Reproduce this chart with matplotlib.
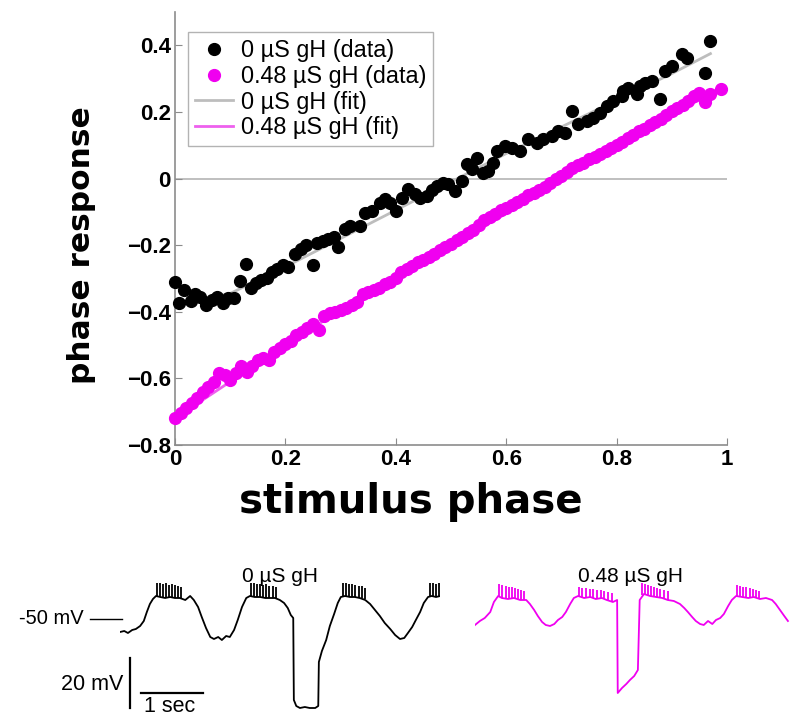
import matplotlib
matplotlib.use("Agg")
import matplotlib.pyplot as plt
from matplotlib.lines import Line2D

# ---------------- data: phase response curves ----------------
black_x = [0.000, 0.007, 0.016, 0.029, 0.036, 0.045, 0.056, 0.067, 0.076, 0.087,
           0.096, 0.107, 0.118, 0.129, 0.138, 0.147, 0.156, 0.167, 0.176, 0.185,
           0.196, 0.205, 0.217, 0.228, 0.237, 0.250, 0.257, 0.268, 0.277, 0.288,
           0.295, 0.308, 0.317, 0.335, 0.344, 0.357, 0.371, 0.380, 0.389, 0.400,
           0.411, 0.422, 0.435, 0.444, 0.457, 0.466, 0.475, 0.486, 0.495, 0.507,
           0.520, 0.529, 0.538, 0.547, 0.558, 0.567, 0.576, 0.583, 0.598, 0.611,
           0.625, 0.639, 0.656, 0.667, 0.683, 0.694, 0.707, 0.719, 0.730, 0.746,
           0.757, 0.770, 0.783, 0.793, 0.810, 0.812, 0.821, 0.837, 0.842, 0.851,
           0.864, 0.879, 0.888, 0.900, 0.918, 0.928, 0.960, 0.969]
black_y = [-0.312, -0.375, -0.336, -0.369, -0.348, -0.357, -0.381, -0.366, -0.357, -0.375,
           -0.360, -0.360, -0.309, -0.258, -0.330, -0.315, -0.306, -0.300, -0.282, -0.273,
           -0.261, -0.267, -0.228, -0.213, -0.201, -0.261, -0.195, -0.189, -0.183, -0.177,
           -0.207, -0.150, -0.141, -0.141, -0.102, -0.096, -0.072, -0.060, -0.072, -0.096,
           -0.057, -0.030, -0.045, -0.057, -0.051, -0.033, -0.021, -0.012, -0.015, -0.036,
           -0.006, 0.045, 0.030, 0.063, 0.018, 0.024, 0.048, 0.084, 0.099, 0.093,
           0.084, 0.120, 0.108, 0.120, 0.129, 0.144, 0.138, 0.204, 0.165, 0.174,
           0.183, 0.198, 0.219, 0.234, 0.249, 0.264, 0.273, 0.255, 0.279, 0.288,
           0.294, 0.240, 0.324, 0.339, 0.375, 0.363, 0.318, 0.414]

mag_x = [0.00, 0.01, 0.02, 0.03, 0.04, 0.05, 0.06, 0.07, 0.08, 0.09,
         0.10, 0.11, 0.12, 0.13, 0.14, 0.15, 0.16, 0.17, 0.18, 0.19,
         0.20, 0.21, 0.22, 0.23, 0.24, 0.25, 0.26, 0.27, 0.28, 0.29,
         0.30, 0.31, 0.32, 0.33, 0.34, 0.35, 0.36, 0.37, 0.38, 0.39,
         0.40, 0.41, 0.42, 0.43, 0.44, 0.45, 0.46, 0.47, 0.48, 0.49,
         0.50, 0.51, 0.52, 0.53, 0.54, 0.55, 0.56, 0.57, 0.58, 0.59,
         0.60, 0.61, 0.62, 0.63, 0.64, 0.65, 0.66, 0.67, 0.68, 0.69,
         0.70, 0.71, 0.72, 0.73, 0.74, 0.75, 0.76, 0.77, 0.78, 0.79,
         0.80, 0.81, 0.82, 0.83, 0.84, 0.85, 0.86, 0.87, 0.88, 0.89,
         0.90, 0.91, 0.92, 0.93, 0.94, 0.95, 0.96, 0.97, 0.99]
mag_y = [-0.720, -0.705, -0.690, -0.675, -0.658, -0.640, -0.625, -0.612, -0.585, -0.590,
         -0.605, -0.585, -0.562, -0.580, -0.562, -0.545, -0.540, -0.546, -0.522, -0.508,
         -0.498, -0.488, -0.470, -0.462, -0.448, -0.436, -0.456, -0.412, -0.405, -0.402,
         -0.396, -0.388, -0.380, -0.370, -0.348, -0.340, -0.334, -0.328, -0.318, -0.310,
         -0.298, -0.282, -0.272, -0.262, -0.252, -0.245, -0.235, -0.228, -0.215, -0.205,
         -0.196, -0.185, -0.176, -0.165, -0.155, -0.140, -0.125, -0.115, -0.105, -0.095,
         -0.088, -0.080, -0.070, -0.060, -0.050, -0.042, -0.035, -0.025, -0.012, -0.002,
         0.008, 0.020, 0.032, 0.040, 0.048, 0.058, 0.065, 0.075, 0.083, 0.092,
         0.100, 0.110, 0.122, 0.132, 0.142, 0.150, 0.160, 0.170, 0.180, 0.192,
         0.203, 0.212, 0.222, 0.232, 0.248, 0.258, 0.230, 0.255, 0.270]

fit0_x = [0.0, 0.1, 0.2, 0.3, 0.4, 0.5, 0.6, 0.7, 0.8, 0.9, 0.97]
fit0_y = [-0.38, -0.345, -0.265, -0.18, -0.095, -0.01, 0.075, 0.155, 0.235, 0.315, 0.375]
fit1_x = [0.0, 0.1, 0.2, 0.3, 0.4, 0.5, 0.6, 0.7, 0.8, 0.9, 0.98]
fit1_y = [-0.72, -0.61, -0.50, -0.395, -0.295, -0.20, -0.105, 0.0, 0.10, 0.19, 0.265]

legend_labels = ["0 \u00b5S gH (data)", "0.48 \u00b5S gH (data)",
                 "0 \u00b5S gH (fit)", "0.48 \u00b5S gH (fit)"]
xticks = [0, 0.2, 0.4, 0.6, 0.8, 1]
xtick_labels = ["0", "0.2", "0.4", "0.6", "0.8", "1"]
yticks = [-0.8, -0.6, -0.4, -0.2, 0, 0.2, 0.4]
ytick_labels = ["\u22120.8", "\u22120.6", "\u22120.4", "\u22120.2", "0", "0.2", "0.4"]

# ---------------- data: voltage traces (t in s, V in mV) ----------------
tr0_t = [0.00, 0.07, 0.13, 0.20, 0.26, 0.33, 0.39, 0.44, 0.49, 0.54, 0.59, 0.66, 0.74,
         0.82, 0.90, 0.98, 1.07, 1.15, 1.21, 1.28, 1.34, 1.41, 1.48, 1.54, 1.61, 1.67,
         1.74, 1.80, 1.87, 1.93, 2.00, 2.07, 2.13, 2.21, 2.30, 2.38, 2.46, 2.54, 2.62,
         2.69, 2.75, 2.80, 2.84, 2.85, 2.89, 2.95, 3.03, 3.11, 3.20, 3.25, 3.26, 3.31,
         3.38, 3.44, 3.51, 3.57, 3.62, 3.69, 3.77, 3.85, 3.93, 4.02, 4.10, 4.18, 4.26,
         4.34, 4.43, 4.51, 4.59, 4.66, 4.72, 4.79, 4.85, 4.92, 4.98, 5.05, 5.11, 5.18, 5.25]
tr0_v = [-55.2, -54.8, -55.6, -54.4, -54.0, -52.8, -50.8, -47.2, -44.0, -42.0, -40.8, -41.2, -41.6,
         -41.2, -41.6, -41.6, -42.4, -40.8, -42.4, -45.2, -49.2, -53.6, -57.2, -58.0, -57.2, -58.4,
         -56.8, -57.2, -54.4, -50.4, -45.2, -41.6, -40.8, -41.2, -41.2, -41.6, -41.6, -41.6, -42.4,
         -43.6, -45.6, -48.4, -49.6, -82.4, -84.8, -85.6, -85.2, -85.6, -85.6, -84.8, -67.2, -62.8,
         -58.4, -52.8, -48.0, -43.6, -41.2, -40.8, -41.2, -41.2, -41.6, -42.4, -44.0, -46.4, -48.8,
         -51.6, -54.0, -56.4, -58.0, -57.6, -55.6, -53.2, -50.4, -47.2, -43.6, -41.2, -40.8, -41.2, -40.8]
sp0_t = [0.61, 0.66, 0.71, 0.76, 0.80, 0.85, 0.90, 0.95, 1.00,
         2.15, 2.20, 2.25, 2.30, 2.35, 2.40, 2.45, 2.50, 2.56,
         3.66, 3.71, 3.76, 3.81, 3.86, 3.91, 3.96, 4.01,
         5.08, 5.13, 5.18, 5.23]
sp0_base = [-41.0, -41.2, -41.4, -41.4, -41.4, -41.6, -41.6, -41.6, -41.8,
            -40.8, -41.0, -41.2, -41.2, -41.4, -41.4, -41.6, -41.6, -42.0,
            -40.8, -41.0, -41.0, -41.2, -41.2, -41.4, -41.6, -42.0,
            -41.0, -40.8, -41.2, -41.0]
sp0_peak = [-35.6, -35.6, -36.0, -35.6, -36.4, -36.0, -36.4, -36.8, -37.2,
            -35.6, -35.6, -36.0, -36.0, -36.4, -36.0, -36.8, -36.8, -37.2,
            -35.6, -35.6, -36.0, -36.0, -36.4, -36.8, -36.8, -37.6,
            -35.6, -35.6, -36.0, -35.6]

tr1_t = [0.00, 0.08, 0.16, 0.25, 0.31, 0.38, 0.44, 0.54, 0.64, 0.74, 0.84, 0.90, 0.97,
         1.03, 1.10, 1.16, 1.23, 1.30, 1.36, 1.43, 1.49, 1.56, 1.62, 1.69, 1.79, 1.89,
         1.98, 2.08, 2.16, 2.26, 2.33, 2.34, 2.41, 2.48, 2.54, 2.61, 2.67, 2.70, 2.77,
         2.87, 2.97, 3.07, 3.16, 3.26, 3.36, 3.43, 3.49, 3.56, 3.62, 3.69, 3.75, 3.82,
         3.89, 3.95, 4.02, 4.08, 4.15, 4.21, 4.28, 4.38, 4.48, 4.57, 4.67, 4.77, 4.87,
         4.93, 5.00, 5.07, 5.13]
tr1_v = [-52.4, -50.8, -49.6, -47.2, -43.2, -40.8, -41.6, -42.0, -41.6, -42.4, -42.4, -44.0, -46.4,
         -48.8, -51.2, -52.4, -52.8, -52.0, -50.4, -49.2, -47.2, -44.0, -41.6, -40.8, -41.6, -41.2,
         -42.0, -41.6, -42.4, -43.2, -42.4, -79.6, -77.6, -76.0, -74.4, -72.8, -70.4, -42.4, -40.0,
         -40.8, -41.2, -41.6, -42.4, -42.8, -44.0, -45.6, -47.2, -49.2, -50.8, -52.0, -52.4, -50.8,
         -52.0, -50.4, -49.6, -48.0, -44.8, -42.4, -40.8, -41.2, -41.6, -41.2, -42.0, -41.6, -42.4,
         -44.0, -46.4, -48.8, -50.8]
sp1_t = [0.40, 0.45, 0.50, 0.55, 0.60, 0.65, 0.70, 0.75, 0.80,
         1.70, 1.76, 1.82, 1.88, 1.94, 2.00, 2.06, 2.12, 2.18, 2.24,
         2.74, 2.79, 2.84, 2.89, 2.94, 2.99, 3.04, 3.10, 3.16,
         4.30, 4.35, 4.40, 4.45, 4.50, 4.55, 4.60, 4.66]
sp1_base = [-41.0, -41.4, -41.6, -41.8, -41.6, -41.8, -42.0, -42.2, -42.4,
            -41.0, -41.4, -41.4, -41.2, -41.6, -41.8, -41.6, -41.8, -42.2, -42.6,
            -40.4, -40.4, -40.8, -40.8, -41.0, -41.2, -41.4, -41.6, -42.2,
            -41.0, -41.2, -41.2, -41.4, -41.4, -41.2, -41.4, -42.0]
sp1_peak = [-36.0, -36.4, -36.8, -37.2, -37.2, -37.6, -38.0, -38.4, -38.8,
            -37.2, -37.6, -37.6, -38.0, -38.0, -38.4, -38.4, -38.8, -39.2, -39.6,
            -35.6, -36.0, -36.4, -36.8, -37.2, -37.6, -38.0, -38.4, -38.8,
            -36.4, -36.8, -37.2, -37.2, -37.6, -38.0, -38.4, -38.8]

trace_titles = ["0 \u00b5S gH", "0.48 \u00b5S gH"]

# ---------------- styling ----------------
MAG = "#f000f0"
FIT0 = "#bdbdbd"
FIT1 = "#ee60ee"
AXC = "#8c8c8c"
W, H = 790, 718

plt.rcParams["font.family"] = ["Liberation Sans", "DejaVu Sans"]
fig = plt.figure(figsize=(W / 100, H / 100), dpi=100)

def fx(px):
    return px / W

def fy(py):
    return 1 - py / H

ax = fig.add_axes([fx(175), fy(445), (727 - 175) / W, (445 - 12) / H])
ax.set_xlim(0, 1)
ax.set_ylim(-0.8, 0.5)
ax.axhline(0, color="#b4b4b4", lw=1.2, zorder=1)
ax.plot(fit0_x, fit0_y, color=FIT0, lw=2, zorder=2)
ax.plot(fit1_x, fit1_y, color=FIT1, lw=2, zorder=2)
ax.plot(black_x, black_y, "o", color="black", ms=8.5, mec="black", zorder=3, clip_on=False)
ax.plot(mag_x, mag_y, "o", color=MAG, ms=8.5, mec=MAG, zorder=3, clip_on=False)

for s in ["top", "right"]:
    ax.spines[s].set_visible(False)
for s in ["left", "bottom"]:
    ax.spines[s].set_color(AXC)
    ax.spines[s].set_linewidth(1.2)
ax.set_xticks(xticks)
ax.set_xticklabels(xtick_labels)
ax.set_yticks(yticks)
ax.set_yticklabels(ytick_labels)
ax.tick_params(direction="in", length=5, color=AXC, labelsize=16, pad=3)
for lab in ax.get_xticklabels() + ax.get_yticklabels():
    lab.set_fontweight("bold")

fig.text(fx(82), fy(245), "phase response", rotation=90, ha="center", va="center",
         fontsize=22.5, fontweight="bold", family="DejaVu Sans")
fig.text(fx(411), fy(502), "stimulus phase", ha="center", va="center",
         fontsize=29, fontweight="bold", family="DejaVu Sans")

handles = [Line2D([], [], ls="none", marker="o", color="black", ms=8.5),
           Line2D([], [], ls="none", marker="o", color=MAG, ms=8.5),
           Line2D([], [], color=FIT0, lw=2),
           Line2D([], [], color=FIT1, lw=2)]
leg = ax.legend(handles, legend_labels, loc="upper left", bbox_to_anchor=(0.024, 0.954),
                borderaxespad=0, fontsize=16.8, frameon=True, fancybox=False,
                handlelength=1.6, handletextpad=0.35, labelspacing=0.12, borderpad=0.3)
leg.get_frame().set_edgecolor("#a0a0a0")
leg.get_frame().set_linewidth(1.0)

# ---------------- traces ----------------
PXS = 61.0     # px per second
PXV = 2.5      # px per mV

def trace_axes(px_left, px_right):
    a = fig.add_axes([fx(px_left), fy(716), (px_right - px_left) / W, (716 - 560) / H])
    a.set_xlim(0, (px_right - px_left) / PXS)
    a.set_ylim(-50 - (716 - 619) / PXV, -50 + (619 - 560) / PXV)
    a.axis("off")
    return a

ta = trace_axes(120, 440)
ta.plot(tr0_t, tr0_v, color="black", lw=1.3)
ta.vlines(sp0_t, sp0_base, sp0_peak, color="black", lw=1.3)

tb = trace_axes(475, 790)
tb.plot(tr1_t, tr1_v, color=MAG, lw=1.3)
tb.vlines(sp1_t, sp1_base, sp1_peak, color=MAG, lw=1.3)

fig.text(fx(280), fy(576), trace_titles[0], ha="center", va="center", fontsize=15)
fig.text(fx(630), fy(576), trace_titles[1], ha="center", va="center", fontsize=15)

# -50 mV reference mark and scale bars (in black-trace data units)
ta.plot([-0.49, 0.03], [-50, -50], color="black", lw=1.0, clip_on=False)
fig.text(fx(84), fy(619), "-50 mV", ha="right", va="center", fontsize=14.5)
ta.plot([0.16, 0.16], [-65.6, -85.6], color="black", lw=1.6, clip_on=False)
ta.plot([0.34, 1.36], [-79.6, -79.6], color="black", lw=1.6, clip_on=False)
fig.text(fx(123), fy(684), "20 mV", ha="right", va="center", fontsize=15.5)
fig.text(fx(170), fy(707), "1 sec", ha="center", va="center", fontsize=15.5)

fig.savefig("out.png", dpi=100)
